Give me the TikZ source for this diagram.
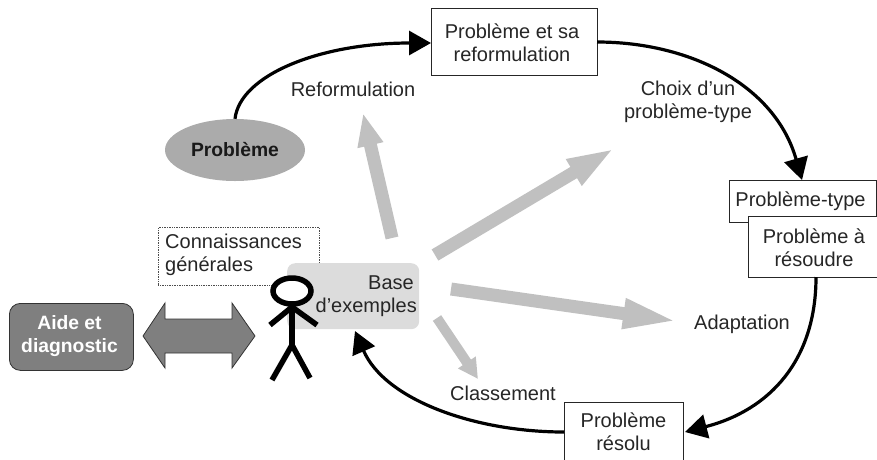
\documentclass[tikz,border=0pt]{standalone}
\usepackage{fontspec}
\setmainfont{Liberation Sans}
\usetikzlibrary{arrows.meta,shapes.geometric}
\newcommand{\txtsize}{\fontsize{20}{23}\selectfont}
\newcommand{\boldsize}{\fontsize{19.3}{23}\selectfont\bfseries}
\tikzset{
  lbl/.style={font=\txtsize,align=center,inner sep=0pt,text=black!85},
  pbox/.style={draw=black!85,fill=white,line width=0.9pt,inner sep=0pt,anchor=north west,align=center,font=\txtsize,text=black!85},
  curve/.style={line width=3.2pt,draw=black,-{Triangle[length=22pt,width=24pt]}},
  stick/.style={line width=5.5pt,draw=black}
}
\definecolor{baseg}{HTML}{DCDCDC}
\definecolor{midg}{HTML}{ABABAB}
\definecolor{darkg}{HTML}{7F7F7F}
\definecolor{arrg}{HTML}{C0C0C0}
\begin{document}
\begin{tikzpicture}[x=1pt,y=-1pt]
\useasboundingbox (0,0) rectangle (877,459);
\clip (0,0) rectangle (877,459);
% nodes
\node[draw=black!70,densely dotted,line width=0.7pt,minimum width=161pt,minimum height=58pt,inner sep=0pt,anchor=north west] (conn) at (158,227) {};
\node[lbl,anchor=west,align=left] (connt) at (165,254.5) {Connaissances\\générales};
\node[fill=baseg,rounded corners=8pt,minimum width=132pt,minimum height=66pt,inner sep=0pt,anchor=north west] (base) at (287,263) {};
\node[lbl,anchor=east,align=right] (baset) at (417,296) {Base\kern3pt\\d'exemples};
\node[ellipse,fill=midg,minimum width=140pt,minimum height=62pt,inner sep=0pt,font=\boldsize,text=black!90] (pb) at (235,150) {Problème};
\node[pbox,minimum width=166pt,minimum height=67pt] (ref) at (431,8) {};
\node[lbl] (reft2) at (512,42.5) {Problème et sa\\reformulation};
\node[pbox,minimum width=147pt,minimum height=42pt] (type) at (729,180) {};
\node[lbl] (typet) at (800.5,201) {Problème-type};
\node[pbox,minimum width=140pt,minimum height=61pt] (res) at (748,216) {};
\node[lbl] (rest) at (814,247.5) {Problème à\\résoudre};
\node[pbox,minimum width=119pt,minimum height=72pt] (sol) at (564,402) {};
\node[lbl] (solt) at (623.5,431.5) {Problème\\résolu};
\node[fill=darkg,draw=black!80,line width=0.8pt,rounded corners=11pt,minimum width=124pt,minimum height=67pt,inner sep=0pt,anchor=north west] (aide) at (9,303) {};
\node[lbl,text=white,font=\boldsize] (aidet) at (69.5,336.5) {Aide et\\diagnostic};
\node[lbl] (reft) at (353,89) {Reformulation};
\node[lbl] (choix) at (688,102) {Choix d'un\\problème-type};
\node[lbl] (adapt) at (742,324) {Adaptation};
\node[lbl] (class) at (503,393) {Classement};
\coordinate (a1) at (392,238); \coordinate (a1t) at (363,113);
\coordinate (a2) at (435,255); \coordinate (a2t) at (615,148);
\coordinate (a3) at (451,289); \coordinate (a3t) at (679,321.5);
\coordinate (a4) at (437,318); \coordinate (a4t) at (478,379);
% grey arrows
\draw[arrg,line width=13pt,-{Triangle[length=33pt,width=24pt]}] (a1) -- (a1t);
\draw[arrg,line width=13pt,-{Triangle[length=48pt,width=27pt]}] (a2) -- (a2t);
\draw[arrg,line width=13pt,-{Triangle[length=56pt,width=27pt]}] (a3) -- (a3t);
\draw[arrg,line width=10pt,-{Triangle[length=20pt,width=20pt]}] (a4) -- (a4t);
% black curves
\coordinate (refr) at (597,42);
\coordinate (typetop) at (802,180);
\coordinate (resb) at (816,277);
\coordinate (solr) at (685,432);
\coordinate (soll) at (564,432);
\coordinate (baseb) at (355,331);
\coordinate (refl) at (431,43);
\draw[curve] (pb.north) .. controls (240,75) and (320,43) .. (refl);
\draw[curve] (refr) .. controls (690,42) and (775,85) .. (typetop);
\draw[curve] (resb) .. controls (816,360) and (770,410) .. (solr);
\draw[curve] (soll) .. controls (475,432) and (385,400) .. (baseb);
% double arrow
\draw[fill=darkg,draw=black!80,line width=0.8pt] (143,336) -- (165,303) -- (165,319) -- (232,319) -- (232,303) -- (255,336) -- (232,368) -- (232,353) -- (165,353) -- (165,368) -- cycle;
% stick figure
\node[ellipse,draw=black,fill=white,line width=5.5pt,minimum width=38pt,minimum height=26pt,inner sep=0pt] (head) at (292,291) {};
\coordinate (hip) at (292,345);
\draw[stick] (head.south) -- (hip);
\draw[stick] (270,325) -- (292,307) -- (317,325);
\draw[stick] (272,380) -- (hip) -- (310,378);
\end{tikzpicture}
\end{document}
